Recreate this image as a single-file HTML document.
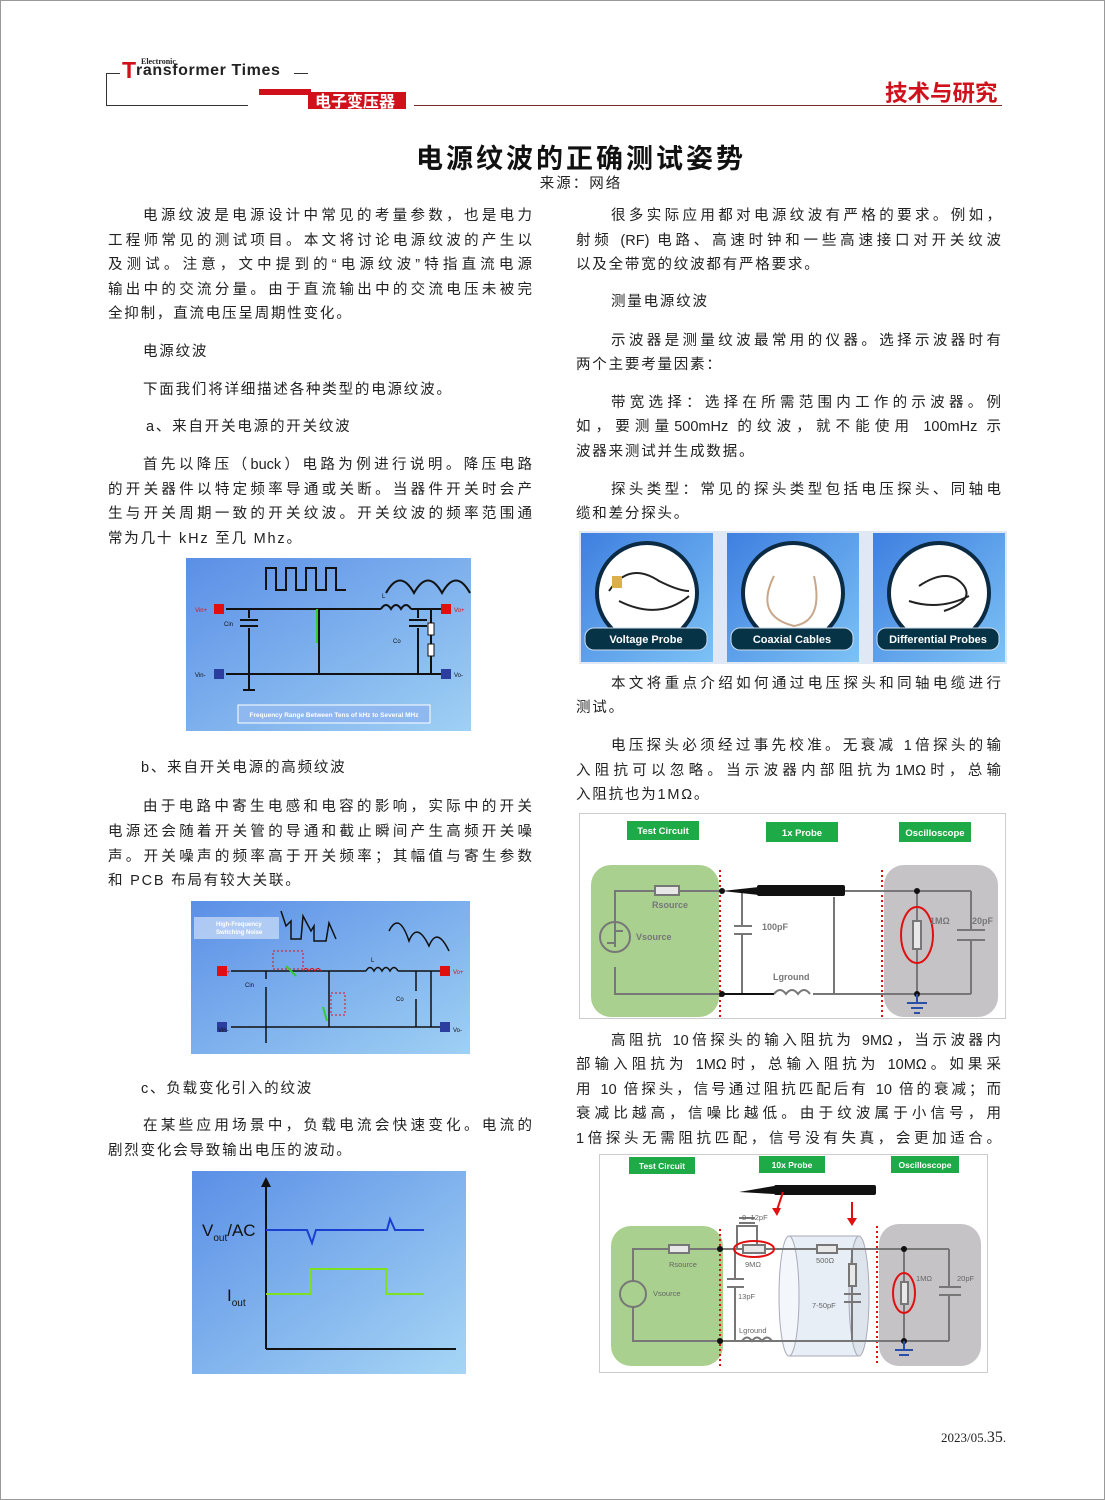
<!DOCTYPE html>
<html><head><meta charset="utf-8"><style>
body{margin:0;background:#fff}
#p{position:relative;width:1103px;height:1498px;border:1px solid #999;overflow:hidden;font-family:"Liberation Sans","Noto Sans CJK SC",sans-serif;color:#222}
.l{position:absolute;font-size:14.5px;line-height:24px;height:24px;text-align:justify;text-align-last:justify;white-space:normal;margin-top:1px}
.f{text-align-last:left}
.a{position:absolute}
svg text{font-family:"Liberation Sans",sans-serif}
</style></head><body><div id="p">
<!-- header -->
<div class="a" style="left:105px;top:72px;width:14px;height:1px;background:#333"></div>
<div class="a" style="left:105px;top:72px;width:1px;height:32px;background:#333"></div>
<div class="a" style="left:105px;top:104px;width:142px;height:1px;background:#333"></div>
<div class="a" style="left:140px;top:56px;font:bold 8px 'Liberation Serif',serif;color:#222">Electronic</div>
<div class="a" style="left:121px;top:56px;font:bold 23px 'Liberation Sans',sans-serif;color:#d0101a">T</div>
<div class="a" style="left:135px;top:61px;font:bold 16px 'Liberation Sans',sans-serif;color:#222;letter-spacing:0.6px">ransformer Times</div>
<div class="a" style="left:293px;top:72px;width:14px;height:1px;background:#333"></div>
<svg class="a" style="left:255px;top:86px" width="160" height="24"><polygon points="3,2 55,2 55,8 75,8 75,14 95,14 95,22 55,22 55,8 3,8" fill="#d0101a"/><rect x="52" y="5" width="98" height="17" fill="#d0101a"/></svg>
<div class="a" style="left:314px;top:87px;font:bold 16px 'Noto Sans CJK SC',sans-serif;color:#fff">电子变压器</div>
<div class="a" style="left:413px;top:104px;width:588px;height:1px;background:#7a2a2a"></div>
<div class="a" style="left:884px;top:75px;font:bold 22.5px 'Noto Sans CJK SC',sans-serif;color:#d0101a">技术与研究</div>
<!-- title -->
<div class="a" style="left:400px;top:136px;width:360px;text-align:center;font:bold 27px 'Noto Sans CJK SC',sans-serif;letter-spacing:3px;color:#111">电源纹波的正确测试姿势</div>
<div class="a" style="left:530px;top:171px;width:100px;text-align:center;font-size:14.5px;letter-spacing:2px">来源：网络</div>
<!-- left column -->
<div class="l" style="left:142px;top:202px;width:389px">电源纹波是电源设计中常见的考量参数，也是电力</div>
<div class="l" style="left:107px;top:227px;width:424px">工程师常见的测试项目。本文将讨论电源纹波的产生以</div>
<div class="l" style="left:107px;top:251px;width:424px">及测试。注意，文中提到的“电源纹波”特指直流电源</div>
<div class="l" style="left:107px;top:276px;width:424px">输出中的交流分量。由于直流输出中的交流电压未被完</div>
<div class="l f" style="left:107px;top:300px;width:424px;letter-spacing:1.8px">全抑制，直流电压呈周期性变化。</div>
<div class="l f" style="left:142px;top:338px;width:300px;letter-spacing:1.8px">电源纹波</div>
<div class="l f" style="left:142px;top:376px;width:389px;letter-spacing:1.8px">下面我们将详细描述各种类型的电源纹波。</div>
<div class="l f" style="left:145px;top:413px;width:389px;letter-spacing:1.8px">a、来自开关电源的开关纹波</div>
<div class="l" style="left:142px;top:451px;width:389px">首先以降压（buck）电路为例进行说明。降压电路</div>
<div class="l" style="left:107px;top:476px;width:424px">的开关器件以特定频率导通或关断。当器件开关时会产</div>
<div class="l" style="left:107px;top:500px;width:424px">生与开关周期一致的开关纹波。开关纹波的频率范围通</div>
<div class="l f" style="left:107px;top:525px;width:424px;letter-spacing:1.8px">常为几十 kHz 至几 Mhz。</div>
<div class="l f" style="left:140px;top:754px;width:389px;letter-spacing:1.8px">b、来自开关电源的高频纹波</div>
<div class="l" style="left:142px;top:793px;width:389px">由于电路中寄生电感和电容的影响，实际中的开关</div>
<div class="l" style="left:107px;top:818px;width:424px">电源还会随着开关管的导通和截止瞬间产生高频开关噪</div>
<div class="l" style="left:107px;top:843px;width:424px">声。开关噪声的频率高于开关频率；其幅值与寄生参数</div>
<div class="l f" style="left:107px;top:867px;width:424px;letter-spacing:1.8px">和 PCB 布局有较大关联。</div>
<div class="l f" style="left:140px;top:1075px;width:389px;letter-spacing:1.8px">c、负载变化引入的纹波</div>
<div class="l" style="left:142px;top:1112px;width:389px">在某些应用场景中，负载电流会快速变化。电流的</div>
<div class="l f" style="left:107px;top:1137px;width:424px;letter-spacing:1.8px">剧烈变化会导致输出电压的波动。</div>
<!-- right column -->
<div class="l" style="left:610px;top:202px;width:390px">很多实际应用都对电源纹波有严格的要求。例如，</div>
<div class="l" style="left:575px;top:227px;width:425px">射频 (RF) 电路、高速时钟和一些高速接口对开关纹波</div>
<div class="l f" style="left:575px;top:251px;width:425px;letter-spacing:1.8px">以及全带宽的纹波都有严格要求。</div>
<div class="l f" style="left:610px;top:288px;width:300px;letter-spacing:1.8px">测量电源纹波</div>
<div class="l" style="left:610px;top:327px;width:390px">示波器是测量纹波最常用的仪器。选择示波器时有</div>
<div class="l f" style="left:575px;top:351px;width:425px;letter-spacing:1.8px">两个主要考量因素：</div>
<div class="l" style="left:610px;top:389px;width:390px">带宽选择：选择在所需范围内工作的示波器。例</div>
<div class="l" style="left:575px;top:413px;width:425px">如，要测量500mHz 的纹波，就不能使用 100mHz 示</div>
<div class="l f" style="left:575px;top:438px;width:425px;letter-spacing:1.8px">波器来测试并生成数据。</div>
<div class="l" style="left:610px;top:476px;width:390px">探头类型：常见的探头类型包括电压探头、同轴电</div>
<div class="l f" style="left:575px;top:500px;width:425px;letter-spacing:1.8px">缆和差分探头。</div>
<div class="l" style="left:610px;top:670px;width:390px">本文将重点介绍如何通过电压探头和同轴电缆进行</div>
<div class="l f" style="left:575px;top:694px;width:425px;letter-spacing:1.8px">测试。</div>
<div class="l" style="left:610px;top:732px;width:390px">电压探头必须经过事先校准。无衰减 1倍探头的输</div>
<div class="l" style="left:575px;top:757px;width:425px">入阻抗可以忽略。当示波器内部阻抗为1MΩ时，总输</div>
<div class="l f" style="left:575px;top:781px;width:425px;letter-spacing:1.8px">入阻抗也为1MΩ。</div>
<div class="l" style="left:610px;top:1027px;width:390px">高阻抗 10倍探头的输入阻抗为 9MΩ，当示波器内</div>
<div class="l" style="left:575px;top:1051px;width:425px">部输入阻抗为 1MΩ时，总输入阻抗为 10MΩ。如果采</div>
<div class="l" style="left:575px;top:1076px;width:425px">用 10 倍探头，信号通过阻抗匹配后有 10 倍的衰减；而</div>
<div class="l" style="left:575px;top:1100px;width:425px">衰减比越高，信噪比越低。由于纹波属于小信号，用</div>
<div class="l" style="left:575px;top:1125px;width:425px">1倍探头无需阻抗匹配，信号没有失真，会更加适合。</div>

<!-- image 1: buck circuit -->
<svg class="a" style="left:185px;top:557px" width="285" height="173">
<defs><linearGradient id="g1" x1="0" y1="0" x2="1" y2="1"><stop offset="0" stop-color="#5b8fe6"/><stop offset="1" stop-color="#9fd0f4"/></linearGradient></defs>
<rect width="285" height="173" fill="url(#g1)"/>
<g stroke="#111" stroke-width="2" fill="none">
<polyline points="80,32 80,10 90,10 90,32 100,32 100,10 110,10 110,32 120,32 120,10 130,10 130,32 140,32 140,10 150,10 150,32 160,32"/>
<path d="M200,35 q14,-25 28,0 q14,-25 28,0 q14,-25 28,0"/>
<line x1="40" y1="51" x2="195" y2="51"/><path d="M195,51 q5,-8 10,0 q5,-8 10,0 q5,-8 10,0"/>
<line x1="225" y1="51" x2="256" y2="51"/>
<line x1="40" y1="116" x2="256" y2="116"/>
<line x1="63" y1="51" x2="63" y2="60"/><line x1="63" y1="70" x2="63" y2="116"/>
<line x1="133" y1="51" x2="133" y2="116"/>
<line x1="232" y1="51" x2="232" y2="60"/><line x1="232" y1="70" x2="232" y2="116"/>
<line x1="245" y1="51" x2="245" y2="116"/>
<line x1="63" y1="116" x2="63" y2="132"/>
</g>
<line x1="131" y1="51" x2="131" y2="85" stroke="#3c3" stroke-width="2"/>
<g stroke="#111" stroke-width="2"><line x1="54" y1="62" x2="72" y2="62"/><line x1="54" y1="68" x2="72" y2="68"/><line x1="223" y1="62" x2="241" y2="62"/><line x1="223" y1="68" x2="241" y2="68"/><line x1="57" y1="132" x2="69" y2="132"/></g>
<rect x="242" y="65" width="6" height="12" fill="#fff" stroke="#111"/><rect x="242" y="86" width="6" height="12" fill="#fff" stroke="#111"/>
<rect x="28" y="46" width="10" height="10" fill="#e01010"/><rect x="255" y="46" width="10" height="10" fill="#e01010"/>
<rect x="28" y="111" width="10" height="10" fill="#2b3d9e"/><rect x="255" y="111" width="10" height="10" fill="#2b3d9e"/>
<g font-size="6" fill="#111"><text x="9" y="54" fill="#e01010">Vin+</text><text x="268" y="54" fill="#e01010">Vo+</text><text x="9" y="119">Vin-</text><text x="268" y="119">Vo-</text><text x="38" y="68">Cin</text><text x="207" y="85">Co</text><text x="196" y="40">L</text></g>
<rect x="52" y="147" width="192" height="18" fill="#8fb8f0" stroke="#fff"/>
<text x="148" y="159" font-size="6.5" fill="#fff" text-anchor="middle" font-weight="bold">Frequency Range Between Tens of kHz to Several MHz</text>
</svg>

<!-- image 2: HF noise -->
<svg class="a" style="left:190px;top:900px" width="279" height="153">
<defs><linearGradient id="g2" x1="0" y1="0" x2="1" y2="1"><stop offset="0" stop-color="#5b8fe6"/><stop offset="1" stop-color="#9fd0f4"/></linearGradient></defs>
<rect width="279" height="153" fill="url(#g2)"/>
<rect x="3" y="16" width="85" height="22" fill="#cfe0f8" opacity=".7"/>
<text x="25" y="25" font-size="6" fill="#fff" font-weight="bold">High-Frequency</text><text x="25" y="33" font-size="6" fill="#fff" font-weight="bold">Switching Noise</text>
<g stroke="#111" stroke-width="1.5" fill="none">
<polyline points="90,10 95,25 100,20 100,38 110,38 112,15 120,30 123,25 123,40 135,40 138,22 145,38"/>
<path d="M198,30 q10,-20 20,10 q8,-20 20,5 q8,-20 20,5"/>
<line x1="40" y1="70" x2="175" y2="70"/><path d="M175,70 q4,-7 8,0 q4,-7 8,0 q4,-7 8,0 q4,-7 8,0"/><line x1="207" y1="70" x2="250" y2="70"/>
<line x1="40" y1="126" x2="250" y2="126"/>
<line x1="75" y1="70" x2="75" y2="78"/><line x1="75" y1="86" x2="75" y2="126"/>
<line x1="138" y1="70" x2="138" y2="126"/>
<line x1="225" y1="70" x2="225" y2="90"/><line x1="225" y1="98" x2="225" y2="126"/>
<line x1="240" y1="70" x2="240" y2="126"/><line x1="75" y1="126" x2="75" y2="142"/>
</g>
<rect x="82" y="50" width="30" height="18" fill="none" stroke="#e01010" stroke-dasharray="2,2"/>
<rect x="140" y="92" width="14" height="22" fill="none" stroke="#e01010" stroke-dasharray="2,2"/>
<path d="M112,70 q3,-5 6,0 q3,-5 6,0 q3,-5 6,0" stroke="#e01010" fill="none"/>
<line x1="95" y1="65" x2="105" y2="75" stroke="#3c3" stroke-width="2"/><line x1="132" y1="106" x2="136" y2="120" stroke="#3c3" stroke-width="2"/>
<rect x="26" y="65" width="10" height="10" fill="#e01010"/><rect x="249" y="65" width="10" height="10" fill="#e01010"/>
<rect x="26" y="121" width="10" height="10" fill="#2b3d9e"/><rect x="249" y="121" width="10" height="10" fill="#2b3d9e"/>
<g font-size="6" fill="#111"><text x="27" y="73" fill="#e01010">Vin+</text><text x="262" y="73" fill="#e01010">Vo+</text><text x="27" y="131">Vin-</text><text x="262" y="131">Vo-</text><text x="54" y="86">Cin</text><text x="205" y="100">Co</text><text x="180" y="61">L</text></g>
</svg>

<!-- image 3: load -->
<svg class="a" style="left:191px;top:1170px" width="274" height="203">
<defs><linearGradient id="g3" x1="0" y1="0" x2="1" y2="1"><stop offset="0" stop-color="#5b8fe6"/><stop offset="1" stop-color="#a6d6f5"/></linearGradient></defs>
<rect width="274" height="203" fill="url(#g3)"/>
<line x1="74" y1="178" x2="74" y2="12" stroke="#111" stroke-width="2"/><polygon points="69,16 74,6 79,16" fill="#111"/>
<line x1="74" y1="178" x2="264" y2="178" stroke="#111" stroke-width="2"/>
<polyline points="74,59 115,59 120,72 124,59 195,59 198,48 203,59 232,59" stroke="#1a3fd0" stroke-width="2" fill="none"/>
<polyline points="74,123 118,123 118,98 194,98 194,123 232,123" stroke="#7de020" stroke-width="2" fill="none"/>
<text x="10" y="65" font-size="17" fill="#111">V<tspan font-size="10" dy="5">out</tspan><tspan dy="-5">/AC</tspan></text>
<text x="35" y="130" font-size="17" fill="#111">I<tspan font-size="10" dy="5">out</tspan></text>
</svg>

<!-- image 4: probes -->
<svg class="a" style="left:578px;top:530px" width="428" height="133">
<defs><linearGradient id="g4" x1="0" y1="0" x2="1" y2="1"><stop offset="0" stop-color="#3f7fe0"/><stop offset="1" stop-color="#7cc2f5"/></linearGradient></defs>
<rect width="428" height="133" fill="#dfe8f4"/>
<g fill="url(#g4)"><rect x="2" y="2" width="132" height="129"/><rect x="148" y="2" width="132" height="129"/><rect x="294" y="2" width="132" height="129"/></g>
<g fill="#fff" stroke="#0b2a44" stroke-width="4"><circle cx="68" cy="62" r="50"/><circle cx="214" cy="62" r="50"/><circle cx="360" cy="62" r="50"/></g>
<g stroke="#222" stroke-width="2" fill="none"><path d="M30,60 q20,-30 50,-10 q20,10 30,10 M40,70 q40,20 70,-5"/><path d="M340,55 q30,-20 45,0 q10,15 -20,25 M330,70 q30,10 60,-5"/></g>
<rect x="33" y="45" width="10" height="12" fill="#d9b04a"/>
<path d="M195,45 q-20,40 20,50 q30,-5 20,-50" stroke="#c9a78a" stroke-width="2" fill="none"/>
<g fill="#073347" stroke="#cde" stroke-width="1"><rect x="6" y="97" width="122" height="22" rx="9"/><rect x="152" y="97" width="122" height="22" rx="9"/><rect x="298" y="97" width="122" height="22" rx="9"/></g>
<g font-size="11" font-weight="bold" fill="#fff" text-anchor="middle"><text x="67" y="112">Voltage Probe</text><text x="213" y="112">Coaxial Cables</text><text x="359" y="112">Differential Probes</text></g>
</svg>

<!-- image 5: 1x probe -->
<svg class="a" style="left:578px;top:812px" width="427" height="206">
<rect x=".5" y=".5" width="426" height="205" fill="#fff" stroke="#ccc"/>
<rect x="12" y="52" width="128" height="152" rx="20" fill="#a9d08e"/>
<rect x="305" y="52" width="114" height="152" rx="20" fill="#c5c3c6"/>
<g fill="#1faa48"><rect x="48" y="8" width="72" height="19"/><rect x="187" y="9" width="72" height="20"/><rect x="320" y="9" width="72" height="20"/></g>
<g font-size="9.5" font-weight="bold" fill="#fff" text-anchor="middle"><text x="84" y="21">Test Circuit</text><text x="223" y="23">1x Probe</text><text x="356" y="23">Oscilloscope</text></g>
<g stroke="#e01010" stroke-width="2" stroke-dasharray="2,3"><line x1="141" y1="57" x2="141" y2="204"/><line x1="303" y1="57" x2="303" y2="204"/></g>
<g stroke="#777" stroke-width="2" fill="none">
<polyline points="143,78 36,78 36,134"/><polyline points="36,154 36,181 143,181"/>
<circle cx="36" cy="124" r="15"/><polyline points="28,130 36,130 36,118 44,118"/>
<line x1="163" y1="78" x2="163" y2="113"/><line x1="163" y1="121" x2="163" y2="181"/>
<line x1="155" y1="113" x2="173" y2="113"/><line x1="155" y1="121" x2="173" y2="121"/>
<line x1="190" y1="78" x2="392" y2="78"/><line x1="255" y1="84" x2="255" y2="181"/>
<line x1="234" y1="181" x2="392" y2="181"/><line x1="143" y1="181" x2="195" y2="181"/>
<path d="M195,181 q6,-8 12,0 q6,-8 12,0 q6,-8 12,0"/>
<line x1="338" y1="78" x2="338" y2="108"/><line x1="338" y1="136" x2="338" y2="181"/>
<line x1="392" y1="78" x2="392" y2="117"/><line x1="392" y1="127" x2="392" y2="181"/>
<line x1="378" y1="117" x2="406" y2="117"/><line x1="378" y1="127" x2="406" y2="127"/>
</g>
<rect x="76" y="73" width="24" height="9" fill="#e8e8e8" stroke="#777" stroke-width="2"/>
<rect x="334" y="108" width="8" height="28" fill="#e8e8e8" stroke="#777" stroke-width="2"/>
<ellipse cx="338" cy="122" rx="16" ry="28" fill="none" stroke="#e01010" stroke-width="2"/>
<polygon points="143,78 180,74 180,82" fill="#111"/><rect x="178" y="72" width="88" height="11" rx="2" fill="#111"/>
<line x1="143" y1="181" x2="195" y2="181" stroke="#111" stroke-width="2"/>
<g fill="#111"><circle cx="143" cy="78" r="3"/><circle cx="143" cy="181" r="3"/><circle cx="338" cy="78" r="3"/><circle cx="338" cy="181" r="3"/></g>
<g stroke="#2a4fa8" stroke-width="2"><line x1="338" y1="181" x2="338" y2="190"/><line x1="328" y1="190" x2="348" y2="190"/><line x1="332" y1="195" x2="344" y2="195"/><line x1="335" y1="200" x2="341" y2="200"/></g>
<g font-size="9" font-weight="bold" fill="#777"><text x="73" y="95">Rsource</text><text x="57" y="127">Vsource</text><text x="183" y="117">100pF</text><text x="194" y="167">Lground</text><text x="351" y="111">1MΩ</text><text x="393" y="111">20pF</text></g>
</svg>

<!-- image 6: 10x probe -->
<svg class="a" style="left:598px;top:1153px" width="389" height="219">
<rect x=".5" y=".5" width="388" height="218" fill="#fff" stroke="#ccc"/>
<rect x="12" y="72" width="112" height="140" rx="20" fill="#a9d08e"/>
<rect x="280" y="70" width="102" height="142" rx="20" fill="#c5c3c6"/>
<path d="M190,82 h70 v120 h-70 z" fill="#e8eef5" stroke="#aab" /><ellipse cx="190" cy="142" rx="10" ry="60" fill="#f3f6fa" stroke="#aab"/><ellipse cx="260" cy="142" rx="10" ry="60" fill="#dde4ec" stroke="#aab"/>
<g fill="#1faa48"><rect x="30" y="3" width="66" height="17"/><rect x="160" y="2" width="66" height="17"/><rect x="292" y="2" width="68" height="17"/></g>
<g font-size="8.5" font-weight="bold" fill="#fff" text-anchor="middle"><text x="63" y="15">Test Circuit</text><text x="193" y="14">10x Probe</text><text x="326" y="14">Oscilloscope</text></g>
<g stroke="#e01010" stroke-width="2" stroke-dasharray="2,3"><line x1="121" y1="75" x2="121" y2="212"/><line x1="278" y1="72" x2="278" y2="212"/></g>
<rect x="175" y="31" width="102" height="10" rx="2" fill="#111"/><polygon points="175,32 140,38 175,40" fill="#111"/>
<g stroke="#e01010" stroke-width="2"><line x1="184" y1="38" x2="178" y2="56"/><line x1="253" y1="48" x2="253" y2="66"/></g>
<polygon points="173,54 178,62 182,54" fill="#e01010"/><polygon points="248,64 253,72 258,64" fill="#e01010"/>
<g stroke="#777" stroke-width="2" fill="none">
<polyline points="121,95 34,95 34,128"/><polyline points="34,152 34,187 121,187"/>
<circle cx="34" cy="140" r="13"/>
<line x1="121" y1="95" x2="305" y2="95"/><line x1="121" y1="187" x2="350" y2="187"/>
<polyline points="138,95 138,72 158,72 158,95"/>
<line x1="136" y1="95" x2="136" y2="125"/><line x1="136" y1="133" x2="136" y2="187"/>
<line x1="253" y1="95" x2="253" y2="187"/><line x1="245" y1="140" x2="262" y2="140"/><line x1="245" y1="148" x2="262" y2="148"/>
<line x1="305" y1="95" x2="350" y2="95"/><line x1="305" y1="95" x2="305" y2="187"/>
<line x1="350" y1="95" x2="350" y2="133"/><line x1="350" y1="141" x2="350" y2="187"/>
<line x1="340" y1="133" x2="362" y2="133"/><line x1="340" y1="141" x2="362" y2="141"/>
<path d="M143,187 q5,-7 10,0 q5,-7 10,0 q5,-7 10,0"/>
</g>
<g stroke="#777" stroke-width="2"><line x1="128" y1="125" x2="145" y2="125"/><line x1="128" y1="133" x2="145" y2="133"/><line x1="140" y1="64" x2="156" y2="64"/><line x1="140" y1="69" x2="156" y2="69"/></g>
<g fill="#e8e8e8" stroke="#777" stroke-width="2"><rect x="70" y="91" width="20" height="8"/><rect x="144" y="91" width="22" height="8"/><rect x="218" y="91" width="20" height="8"/><rect x="250" y="110" width="7" height="22"/><rect x="302" y="128" width="7" height="22"/></g>
<ellipse cx="155" cy="95" rx="20" ry="8" fill="none" stroke="#e01010" stroke-width="2"/>
<ellipse cx="305" cy="139" rx="11" ry="20" fill="none" stroke="#e01010" stroke-width="2"/>
<g fill="#111"><circle cx="121" cy="95" r="3"/><circle cx="121" cy="187" r="3"/><circle cx="305" cy="95" r="3"/><circle cx="305" cy="187" r="3"/></g>
<g stroke="#2a4fa8" stroke-width="2"><line x1="305" y1="187" x2="305" y2="196"/><line x1="296" y1="196" x2="314" y2="196"/><line x1="300" y1="201" x2="310" y2="201"/></g>
<g font-size="7.5" fill="#666"><text x="70" y="113">Rsource</text><text x="54" y="142">Vsource</text><text x="143" y="66">8~12pF</text><text x="146" y="113">9MΩ</text><text x="139" y="145">13pF</text><text x="217" y="109">500Ω</text><text x="213" y="154">7-50pF</text><text x="140" y="179">Lground</text><text x="317" y="127">1MΩ</text><text x="358" y="127">20pF</text></g>
</svg>

<div class="a" style="left:940px;top:1428px;font:13px 'Liberation Serif',serif;color:#222">2023/05.<span style="font-size:16px">35</span>.</div>
</div></body></html>
